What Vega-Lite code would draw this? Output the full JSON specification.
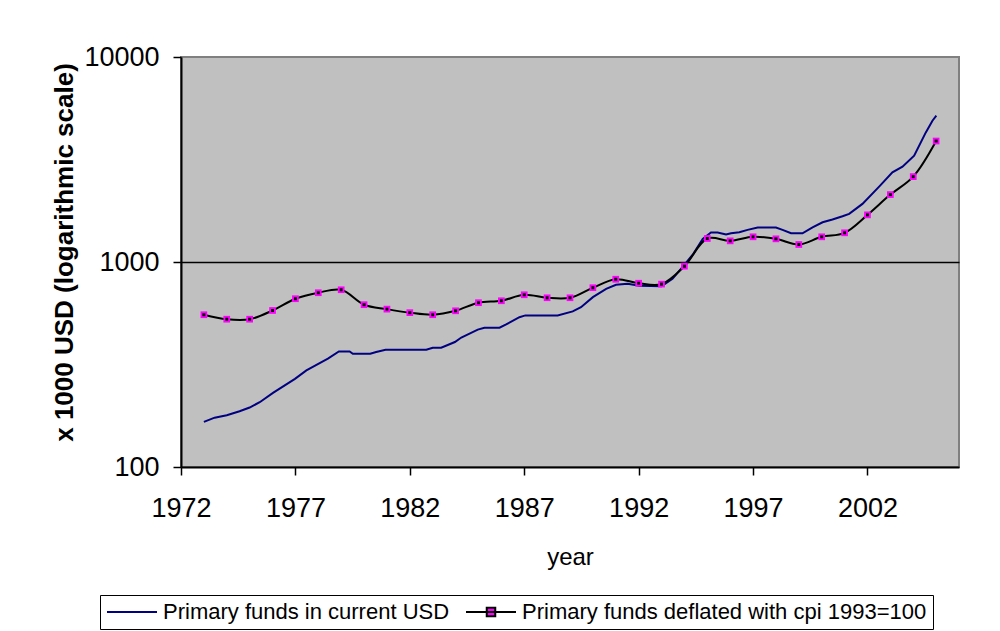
{
  "$schema": "https://vega.github.io/schema/vega-lite/v6.json",
  "width": 778,
  "height": 410,
  "autosize": {"type": "none"},
  "padding": {"left": 181, "top": 57, "right": 41, "bottom": 164},
  "background": "white",
  "config": {
    "font": "Liberation Sans",
    "view": {"fill": "#C0C0C0", "stroke": "#808080", "strokeWidth": 2},
    "axis": {"labelFont": "Liberation Sans", "titleFont": "Liberation Sans", "labelColor": "black", "titleColor": "black", "domainColor": "black", "tickColor": "black", "domainWidth": 2, "tickWidth": 1.5}
  },
  "datasets": {
    "current": [
      {"year": 1973.0, "value": 166}, {"year": 1973.47, "value": 174}, {"year": 1974.0, "value": 179},
      {"year": 1974.56, "value": 187}, {"year": 1975.0, "value": 195}, {"year": 1975.44, "value": 207},
      {"year": 1976.02, "value": 230}, {"year": 1976.98, "value": 269}, {"year": 1977.48, "value": 296},
      {"year": 1977.98, "value": 318}, {"year": 1978.42, "value": 338}, {"year": 1978.9, "value": 366},
      {"year": 1979.37, "value": 366}, {"year": 1979.51, "value": 357}, {"year": 1980.27, "value": 357},
      {"year": 1980.53, "value": 364}, {"year": 1980.94, "value": 373}, {"year": 1982.72, "value": 373},
      {"year": 1983.0, "value": 382}, {"year": 1983.37, "value": 382}, {"year": 1983.97, "value": 407},
      {"year": 1984.25, "value": 428}, {"year": 1984.97, "value": 468}, {"year": 1985.26, "value": 478},
      {"year": 1985.92, "value": 478}, {"year": 1986.21, "value": 496}, {"year": 1986.79, "value": 538},
      {"year": 1987.05, "value": 549}, {"year": 1988.46, "value": 549}, {"year": 1989.12, "value": 574},
      {"year": 1989.48, "value": 602}, {"year": 1990.0, "value": 674}, {"year": 1990.58, "value": 740},
      {"year": 1991.01, "value": 774}, {"year": 1991.52, "value": 783}, {"year": 1992.03, "value": 766},
      {"year": 1993.0, "value": 762}, {"year": 1993.48, "value": 828}, {"year": 1993.95, "value": 954},
      {"year": 1994.39, "value": 1096}, {"year": 1994.8, "value": 1297}, {"year": 1995.16, "value": 1392},
      {"year": 1995.45, "value": 1392}, {"year": 1995.82, "value": 1361}, {"year": 1996.04, "value": 1380},
      {"year": 1996.4, "value": 1397}, {"year": 1996.76, "value": 1435}, {"year": 1997.2, "value": 1473},
      {"year": 1998.0, "value": 1473}, {"year": 1998.29, "value": 1435}, {"year": 1998.66, "value": 1381},
      {"year": 1999.16, "value": 1381}, {"year": 1999.6, "value": 1477}, {"year": 2000.04, "value": 1563},
      {"year": 2000.47, "value": 1611}, {"year": 2000.91, "value": 1671}, {"year": 2001.2, "value": 1717},
      {"year": 2001.78, "value": 1921}, {"year": 2002.51, "value": 2332}, {"year": 2003.09, "value": 2737},
      {"year": 2003.53, "value": 2918}, {"year": 2004.04, "value": 3302}, {"year": 2004.55, "value": 4288},
      {"year": 2004.84, "value": 4890}, {"year": 2005.01, "value": 5170}
    ],
    "deflated": [
      {"year": 1973, "value": 553}, {"year": 1974, "value": 526}, {"year": 1975, "value": 526},
      {"year": 1976, "value": 580}, {"year": 1977, "value": 662}, {"year": 1978, "value": 708},
      {"year": 1979, "value": 732}, {"year": 1980, "value": 619}, {"year": 1981, "value": 589},
      {"year": 1982, "value": 566}, {"year": 1983, "value": 553}, {"year": 1984, "value": 578},
      {"year": 1985, "value": 633}, {"year": 1986, "value": 647}, {"year": 1987, "value": 692},
      {"year": 1988, "value": 669}, {"year": 1989, "value": 669}, {"year": 1990, "value": 749},
      {"year": 1991, "value": 824}, {"year": 1992, "value": 788}, {"year": 1993, "value": 780},
      {"year": 1994, "value": 954}, {"year": 1995, "value": 1302}, {"year": 1996, "value": 1268},
      {"year": 1997, "value": 1327}, {"year": 1998, "value": 1297}, {"year": 1999, "value": 1217},
      {"year": 2000, "value": 1327}, {"year": 2001, "value": 1388}, {"year": 2002, "value": 1698},
      {"year": 2003, "value": 2132}, {"year": 2004, "value": 2609}, {"year": 2005, "value": 3892}
    ]
  },
  "encoding": {
    "x": {
      "field": "year", "type": "quantitative",
      "scale": {"domain": [1972, 2006], "nice": false, "zero": false},
      "axis": {
        "values": [1972, 1977, 1982, 1987, 1992, 1997, 2002], "format": "d",
        "grid": false, "tickSize": 8, "labelPadding": 20, "labelFontSize": 27, "labelFlush": false,
        "title": "year", "titleFontSize": 24, "titleFontWeight": "normal", "titlePadding": 24
      }
    },
    "y": {
      "field": "value", "type": "quantitative",
      "scale": {"type": "log", "domain": [100, 10000], "nice": false},
      "axis": {
        "values": [100, 1000, 10000], "format": "d",
        "grid": true,
        "gridColor": {"condition": {"test": "datum.value === 1000", "value": "black"}, "value": "transparent"},
        "gridWidth": 1.5, "gridOpacity": 1,
        "tickSize": 8, "labelPadding": 14, "labelFontSize": 27, "labelFlush": false,
        "title": "x 1000 USD (logarithmic scale)", "titleFontSize": 26, "titleFontWeight": "bold", "titlePadding": 6, "titleY": 195
      }
    }
  },
  "layer": [
    {
      "data": {"name": "current"},
      "transform": [{"calculate": "'Primary funds in current USD'", "as": "series"}],
      "mark": {"type": "line", "strokeWidth": 2},
      "encoding": {
        "stroke": {
          "field": "series", "type": "nominal",
          "scale": {"domain": ["Primary funds in current USD", "Primary funds deflated with cpi 1993=100"], "range": ["#000080", "#000000"]},
          "legend": {
            "title": null, "orient": "none", "legendX": -81, "legendY": 538, "direction": "horizontal",
            "padding": 6, "strokeColor": "black", "fillColor": "white",
            "symbolSize": 2500, "symbolStrokeWidth": 2, "symbolOpacity": 1, "symbolFillColor": "#FF00FF", "clipHeight": 22,
            "labelFont": "Liberation Sans", "labelFontSize": 22, "labelColor": "black", "labelLimit": 1000,
            "labelOffset": 5, "columnPadding": 15
          }
        }
      }
    },
    {
      "data": {"name": "deflated"},
      "transform": [{"calculate": "'Primary funds deflated with cpi 1993=100'", "as": "series"}],
      "mark": {"type": "line", "strokeWidth": 2, "interpolate": "catmull-rom"},
      "encoding": {
        "stroke": {"field": "series", "type": "nominal"}
      }
    },
    {
      "data": {"name": "deflated"},
      "mark": {"type": "point", "shape": "square", "filled": true, "fill": "#FF00FF", "size": 45, "opacity": 1}
    },
    {
      "data": {"name": "deflated"},
      "mark": {"type": "point", "shape": "square", "filled": true, "fill": "black", "size": 9, "opacity": 1}
    },
    {
      "data": {"name": "deflated"},
      "transform": [{"calculate": "'Primary funds deflated with cpi 1993=100'", "as": "series"}],
      "mark": {"type": "point", "filled": true, "color": "#FF00FF", "fill": "#FF00FF", "opacity": 0},
      "encoding": {
        "shape": {
          "field": "series", "type": "nominal",
          "scale": {"domain": ["Primary funds in current USD", "Primary funds deflated with cpi 1993=100"], "range": ["M-1,0H1", "M-1,0H1M-0.17,-0.17H0.17V0.17H-0.17Z"]}
        }
      }
    }
  ]
}
